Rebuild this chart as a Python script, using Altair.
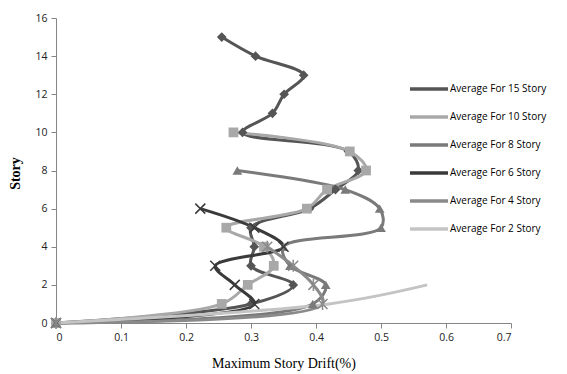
import altair as alt
import pandas as pd

series_names = ["Average For 15 Story", "Average For 10 Story", "Average For 8 Story",
                "Average For 6 Story", "Average For 4 Story", "Average For 2 Story"]

drift_15 = [0, 0.30, 0.365, 0.30, 0.305, 0.30, 0.39, 0.43, 0.465, 0.45, 0.287, 0.333, 0.351, 0.381, 0.307, 0.255]
drift_10 = [0, 0.255, 0.295, 0.335, 0.32, 0.262, 0.386, 0.417, 0.477, 0.452, 0.273]
drift_8 = [0, 0.395, 0.415, 0.36, 0.35, 0.50, 0.498, 0.445, 0.279]
drift_6 = [0, 0.305, 0.275, 0.245, 0.35, 0.305, 0.222]
drift_4 = [0, 0.41, 0.396, 0.365, 0.325]
drift_2 = [0, 0.42, 0.571]

all_drifts = [drift_15, drift_10, drift_8, drift_6, drift_4, drift_2]
colors = ["#555555", "#a8a8a8", "#7a7a7a", "#3a3a3a", "#8a8a8a", "#c4c4c4"]
shapes = ["diamond", "square", "triangle-up",
          "M-1,-1L1,1M-1,1L1,-1", "M-1,-1L1,1M-1,1L1,-1M0,-1.2L0,1.2", None]
shape_filled = [True, True, True, False, False, None]
x_ticks = [0, 0.1, 0.2, 0.3, 0.4, 0.5, 0.6, 0.7]
y_ticks = [0, 2, 4, 6, 8, 10, 12, 14, 16]

rows = []
for name, vals in zip(series_names, all_drifts):
    for story, v in enumerate(vals):
        rows.append({"series": name, "story": story, "drift": v})
df = pd.DataFrame(rows)

xs = alt.Scale(domain=[0, 0.7], nice=False, zero=True)
ys = alt.Scale(domain=[0, 16], nice=False)
cs = alt.Scale(domain=series_names, range=colors)

x_enc = alt.X("drift:Q", scale=xs,
              axis=alt.Axis(values=x_ticks, format=".1~f",
                            title="Maximum   Story Drift(%)", titleFont="Liberation Serif",
                            titleFontSize=14, titleFontWeight="normal", titleColor="#000000",
                            titleY=40, titleBaseline="middle", labelOverlap=False))
y_enc = alt.Y("story:Q", scale=ys,
              axis=alt.Axis(values=y_ticks, title="Story",
                            titleFont="Liberation Serif", titleFontSize=14,
                            titleFontWeight="bold", titleColor="#000000",
                            titleX=-41, titleY=155, titleAlign="center",
                            titleBaseline="middle", titleAngle=-90, labelOverlap=False))

base = alt.Chart(df)

lines = base.mark_line(strokeWidth=3, interpolate="catmull-rom").encode(
    x=x_enc, y=y_enc,
    color=alt.Color("series:N", scale=cs, sort=series_names,
                    legend=alt.Legend(title=None, orient="none", legendX=352, legendY=50,
                                      symbolType="stroke", symbolStrokeWidth=3.5,
                                      symbolSize=1444, labelFont="Open Sans",
                                      labelFontSize=10, labelColor="#000000",
                                      rowPadding=-11.8, labelOffset=0)),
    detail="series:N",
    order=alt.Order("story:Q"),
)

layers = [lines]
for name, shp, filled in zip(series_names, shapes, shape_filled):
    if shp is None:
        continue
    if filled:
        mk = base.mark_point(shape=shp, filled=True, opacity=1, size=95)
    else:
        mk = base.mark_point(shape=shp, filled=False, opacity=1, size=100, strokeWidth=1.5)
    layers.append(
        mk.transform_filter(alt.datum.series == name).encode(
            x=x_enc, y=y_enc,
            color=alt.Color("series:N", scale=cs, legend=None),
        )
    )

chart = alt.layer(*layers).properties(
    width=455, height=305,
    autosize=alt.AutoSizeParams(type="none"),
    padding={"left": 56, "top": 18, "right": 56, "bottom": 51},
).configure_view(stroke=None).configure_axis(
    grid=False, domainColor="#868686", tickColor="#868686", tickSize=5,
    labelFont="Open Sans", labelFontSize=10.5, labelColor="#222222", labelPadding=4,
)

chart.save("out.html", embed_options={"renderer": "svg", "actions": False})
